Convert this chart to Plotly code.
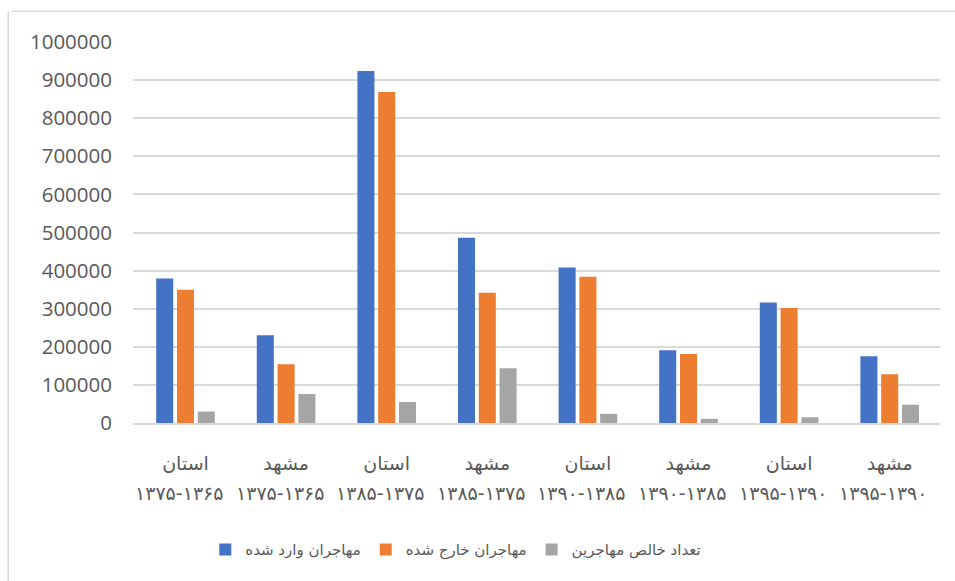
import plotly.graph_objects as go

places = ["استان", "مشهد", "استان", "مشهد", "استان", "مشهد", "استان", "مشهد"]
periods = ["۱۳۷۵-۱۳۶۵", "۱۳۷۵-۱۳۶۵", "۱۳۸۵-۱۳۷۵", "۱۳۸۵-۱۳۷۵",
           "۱۳۹۰-۱۳۸۵", "۱۳۹۰-۱۳۸۵", "۱۳۹۵-۱۳۹۰", "۱۳۹۵-۱۳۹۰"]
categories = [p + " " + q for p, q in zip(places, periods)]

series_names = ["مهاجران وارد شده", "مهاجران خارج شده", "تعداد خالص مهاجرین"]
inflow = [379000, 230000, 924000, 486000, 408000, 191000, 316000, 175000]
outflow = [350000, 154000, 869000, 342000, 384000, 181000, 302000, 128000]
net = [30000, 76000, 55000, 144000, 24000, 11000, 15000, 48000]
colors = ["#4472C4", "#ED7D31", "#A5A5A5"]

yticks = list(range(0, 1000001, 100000))

fig = go.Figure()
for name, vals, col in zip(series_names, [inflow, outflow, net], colors):
    fig.add_trace(go.Bar(x=categories, y=vals, name=name, marker_color=col,
                         marker_line_width=0))

for c, per in zip(categories, periods):
    fig.add_annotation(x=c, xref="x", y=-0.183, yref="paper", yanchor="middle",
                       text=per, showarrow=False, xshift=-6,
                       font=dict(family="DejaVu Sans", size=19, color="#595959"))

fig.update_layout(
    width=955, height=581,
    margin=dict(l=133, r=15, t=41.5, b=158),
    paper_bgcolor="white", plot_bgcolor="white",
    barmode="group", bargap=0.38, bargroupgap=0.18,
    font=dict(family="Open Sans, DejaVu Sans", color="#595959"),
    legend=dict(orientation="h", x=0.40, xanchor="center", xref="paper",
                y=-0.333, yanchor="middle",
                font=dict(family="DejaVu Sans", size=15, color="#595959"),
                itemwidth=30, traceorder="normal"),
    shapes=[
        dict(type="line", xref="paper", yref="paper", x0=-0.1497, x1=1.05, y0=1.0805, y1=1.0805,
             line=dict(color="#d9d9d9", width=1.5)),
        dict(type="line", xref="paper", yref="paper", x0=-0.1546, x1=-0.1546, y0=1.0805, y1=-0.5,
             line=dict(color="#d9d9d9", width=1.5)),
    ],
)
fig.update_yaxes(range=[0, 1000000], tickvals=yticks, ticktext=[str(v) for v in yticks],
                 showgrid=True, gridcolor="#d9d9d9", gridwidth=1.5, zeroline=False,
                 tickfont=dict(family="Open Sans", size=20.5, color="#595959"),
                 ticklabelstandoff=20, showline=False)
fig.update_xaxes(tickvals=categories, ticktext=places, showline=True, linecolor="#d9d9d9",
                 linewidth=1.5, tickfont=dict(family="DejaVu Sans", size=19, color="#595959"),
                 ticklabelstandoff=22, showgrid=False)

fig.write_html("out.html")
